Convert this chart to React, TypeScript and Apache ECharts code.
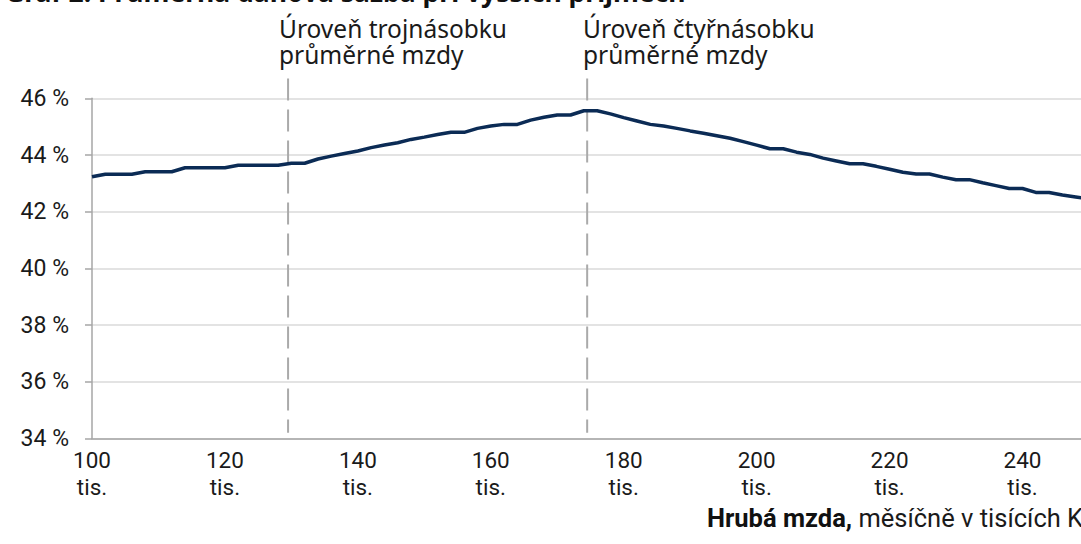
import React, { useEffect, useRef } from "react";
import * as echarts from "echarts";

const wages: number[] = [
  100, 102, 104, 106, 108, 110, 112, 114, 116, 118,
  120, 122, 124, 126, 128, 130, 132, 134, 136, 138,
  140, 142, 144, 146, 148, 150, 152, 154, 156, 158,
  160, 162, 164, 166, 168, 170, 172, 174, 176, 178,
  180, 182, 184, 186, 188, 190, 192, 194, 196, 198,
  200, 202, 204, 206, 208, 210, 212, 214, 216, 218,
  220, 222, 224, 226, 228, 230, 232, 234, 236, 238,
  240, 242, 244, 246, 248, 250,
];

const avgTaxRate: number[] = [
  43.23, 43.32, 43.32, 43.32, 43.41, 43.41, 43.41, 43.55, 43.55, 43.55,
  43.55, 43.64, 43.64, 43.64, 43.64, 43.71, 43.71, 43.86, 43.96, 44.05,
  44.14, 44.26, 44.35, 44.43, 44.55, 44.63, 44.72, 44.8, 44.8, 44.94,
  45.02, 45.08, 45.08, 45.23, 45.33, 45.41, 45.41, 45.56, 45.56, 45.45,
  45.32, 45.2, 45.08, 45.02, 44.94, 44.85, 44.77, 44.68, 44.59, 44.47,
  44.35, 44.22, 44.22, 44.1, 44.02, 43.89, 43.79, 43.69, 43.69, 43.6,
  43.5, 43.39, 43.33, 43.33, 43.22, 43.13, 43.13, 43.02, 42.92, 42.82,
  42.82, 42.68, 42.68, 42.59, 42.52, 42.45,
];

const yTicks = { min: 34, max: 46, interval: 2 };
const xTicks = { min: 100, max: 248.8, interval: 20 };

const refLines = [
  { x: 129.5, label1: "Úroveň trojnásobku", label2: "průměrné mzdy" },
  { x: 174.5, label1: "Úroveň čtyřnásobku", label2: "průměrné mzdy" },
];
const refLineSpan: [number, number] = [46.7, 34.2];

const titleText = "Graf 2: Průměrná daňová sazba při vyšších příjmech";
const footerBold = "Hrubá mzda,";
const footerRest = " měsíčně v tisících Kč";

const AXIS_FONT = "Roboto, 'Noto Sans', sans-serif";
const TEXT_FONT = "'Noto Sans', 'Open Sans', sans-serif";

export default function App() {
  const ref = useRef<HTMLDivElement>(null);

  useEffect(() => {
    if (!ref.current) return;
    const chart = echarts.init(ref.current, undefined, { renderer: "svg" });

    const lineData = wages.map((w, i) => [w, avgTaxRate[i]]);

    const refSeries = refLines.map((r) => ({
      type: "line" as const,
      data: [
        [r.x, refLineSpan[0]],
        [r.x, refLineSpan[1]],
      ],
      clip: false,
      symbol: "none",
      silent: true,
      z: 1,
      lineStyle: { color: "#aaaaaa", width: 2, type: [22, 9] },
    }));

    const labelX = [279, 583];

    const option: any = {
      animation: false,
      backgroundColor: "#ffffff",
      grid: { left: 92, right: 0, top: 98.3, bottom: 105.5, containLabel: false },
      xAxis: {
        type: "value",
        min: xTicks.min,
        max: xTicks.max,
        interval: xTicks.interval,
        axisLine: { show: true, lineStyle: { color: "#a6a6a6", width: 1.5 } },
        axisTick: { show: false },
        splitLine: { show: false },
        axisLabel: {
          showMaxLabel: false,
          formatter: (v: number) => (v % 20 === 0 ? `${v}\ntis.` : ""),
          color: "#1a1a1a",
          fontFamily: AXIS_FONT,
          fontSize: 22.5,
          lineHeight: 27,
          margin: 8,
        },
      },
      yAxis: {
        type: "value",
        min: yTicks.min,
        max: yTicks.max,
        interval: yTicks.interval,
        axisLine: { show: true, lineStyle: { color: "#a6a6a6", width: 1.5 } },
        axisTick: { show: true, length: 7, lineStyle: { color: "#a6a6a6", width: 1.5 } },
        splitLine: { show: true, lineStyle: { color: "#dadada", width: 1.5 } },
        axisLabel: {
          formatter: (v: number) => `${v} %`,
          color: "#1a1a1a",
          fontFamily: AXIS_FONT,
          fontSize: 23,
          margin: 23,
        },
      },
      series: [
        ...refSeries,
        {
          type: "line",
          data: lineData,
          symbol: "none",
          clip: true,
          z: 3,
          lineStyle: { color: "#0b2b55", width: 3.5 },
        },
      ],
      graphic: [
        {
          type: "text",
          x: 5,
          y: -8,
          style: {
            text: titleText,
            fontFamily: TEXT_FONT,
            fontWeight: "bold",
            fontSize: 26.5,
            fill: "#111111",
            verticalAlign: "middle",
            align: "left",
          },
        },
        ...refLines.flatMap((r, i) => [
          {
            type: "text",
            x: labelX[i],
            y: 28,
            style: {
              text: r.label1,
              fontFamily: TEXT_FONT,
              fontSize: 24.5,
              fill: "#1a1a1a",
              verticalAlign: "middle",
              align: "left",
            },
          },
          {
            type: "text",
            x: labelX[i],
            y: 54,
            style: {
              text: r.label2,
              fontFamily: TEXT_FONT,
              fontSize: 24.5,
              fill: "#1a1a1a",
              verticalAlign: "middle",
              align: "left",
            },
          },
        ]),
        {
          type: "text",
          x: 707,
          y: 518,
          style: {
            text: `{b|${footerBold}}{r|${footerRest}}`,
            rich: {
              b: { fontFamily: AXIS_FONT, fontWeight: "bold", fontSize: 25.5, fill: "#111111" },
              r: { fontFamily: AXIS_FONT, fontSize: 25.5, fill: "#1a1a1a" },
            },
            verticalAlign: "middle",
            align: "left",
          },
        },
      ],
    };

    chart.setOption(option);
    return () => chart.dispose();
  }, []);

  return (
    <div
      ref={ref}
      style={{ position: "fixed", left: 0, top: 0, width: 1081, height: 544, overflow: "hidden" }}
    />
  );
}
